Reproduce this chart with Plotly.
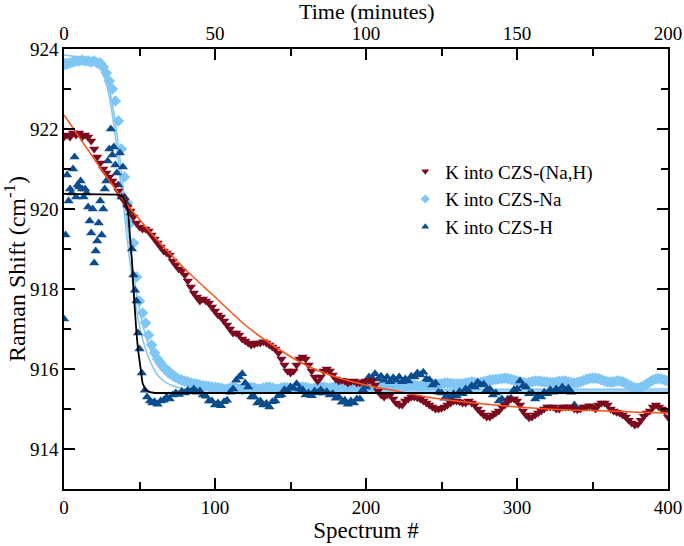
import plotly.graph_objects as go

# ---- data ----
# K into CZS-(Na,H): spectrum 0..400, every 2nd spectrum
nah_y = [921.8, 921.85, 921.8, 921.9, 921.85, 921.9, 921.8, 921.85, 921.8,
         921.7, 921.5, 921.3, 921.15, 921.0, 920.9, 920.8, 920.7, 920.6, 920.45,
         920.3, 920.2, 920.05, 919.95, 919.8, 919.65, 919.55, 919.5, 919.5, 919.45,
         919.35, 919.25, 919.15, 919.05, 918.95, 918.9, 918.85, 918.7, 918.6, 918.5,
         918.45, 918.35, 918.2, 918.05, 917.9, 917.8, 917.7, 917.75, 917.7, 917.65,
         917.55, 917.45, 917.35, 917.3, 917.2, 917.1, 917.0, 916.9, 916.9, 916.85,
         916.75, 916.7, 916.65, 916.6, 916.62, 916.65, 916.65, 916.68, 916.65, 916.6,
         916.55, 916.5, 916.4, 916.25, 916.1, 915.95, 915.9, 915.95, 916.1, 916.25,
         916.3, 916.25, 916.1, 915.95, 915.8, 915.7, 915.8, 915.95, 916.0, 915.95,
         915.85, 915.75, 915.7, 915.72, 915.7, 915.65, 915.68, 915.7, 915.65, 915.65,
         915.68, 915.7, 915.72, 915.7, 915.6, 915.45, 915.35, 915.3, 915.35, 915.35,
         915.25, 915.15, 915.1, 915.1, 915.2, 915.25, 915.3, 915.3, 915.28, 915.25,
         915.2, 915.15, 915.1, 915.05, 915.0, 915.0, 915.02, 915.05, 915.1, 915.15,
         915.2, 915.2, 915.18, 915.15, 915.15, 915.2, 915.15, 915.1, 915.0, 914.92,
         914.85, 914.8, 914.8, 914.85, 914.9, 914.95, 915.05, 915.1, 915.2, 915.25,
         915.25, 915.2, 915.1, 914.95, 914.85, 914.78, 914.8, 914.85, 914.9, 914.95,
         915.0, 915.05, 915.05, 915.05, 915.0, 915.0, 915.05, 915.05, 915.05, 915.05,
         915.0, 914.98, 915.0, 915.05, 915.05, 915.08, 915.05, 915.0, 915.1, 915.15,
         915.15, 915.1, 915.0, 914.95, 914.92, 914.9, 914.85, 914.8, 914.72, 914.65,
         914.6, 914.62, 914.72, 914.82, 914.9, 914.95, 915.05, 915.1, 915.05, 915.0,
         914.95, 914.8]
nah_x = [2 * i for i in range(len(nah_y))]

# K into CZS-Na: spectrum 0..400, every 2nd spectrum
na_y = [923.6, 923.62, 923.65, 923.68, 923.7, 923.7, 923.72, 923.7, 923.7, 923.68,
        923.7, 923.65,
        923.65, 923.55, 923.4, 923.2, 923.0, 922.7, 922.2, 921.5, 920.8, 920.15,
        919.65, 919.15, 918.3, 917.7, 917.4, 917.15, 916.85, 916.6, 916.4, 916.25,
        916.15, 916.05, 915.98, 915.92, 915.85, 915.8, 915.75, 915.72, 915.7, 915.68,
        915.65, 915.63, 915.62, 915.6, 915.58, 915.57, 915.56, 915.55, 915.54,
        915.53, 915.52, 915.5, 915.5, 915.52, 915.53, 915.52, 915.5, 915.48, 915.5,
        915.52, 915.54, 915.53, 915.5, 915.5, 915.52, 915.54, 915.55, 915.53, 915.5,
        915.5, 915.52, 915.54, 915.53, 915.52, 915.5, 915.52, 915.54, 915.55, 915.54,
        915.52, 915.5, 915.52, 915.55, 915.56, 915.55, 915.53, 915.52, 915.54, 915.56,
        915.55, 915.53, 915.52, 915.54, 915.56, 915.57, 915.55, 915.54, 915.55, 915.57,
        915.58, 915.56, 915.55, 915.55, 915.57, 915.58, 915.57, 915.55, 915.56, 915.58,
        915.6, 915.58, 915.57, 915.58, 915.6, 915.6, 915.58, 915.57, 915.58, 915.6,
        915.62, 915.63, 915.62,
        915.62, 915.63, 915.65, 915.65, 915.64, 915.63, 915.62, 915.62, 915.63, 915.65,
        915.66, 915.67, 915.66, 915.65, 915.66, 915.68, 915.7, 915.72, 915.73, 915.74,
        915.75, 915.76, 915.77, 915.76, 915.74, 915.72, 915.7, 915.68, 915.66, 915.65,
        915.66, 915.68, 915.7, 915.7, 915.69, 915.68, 915.67, 915.66, 915.66, 915.67,
        915.69, 915.7, 915.7, 915.68, 915.66, 915.65, 915.66, 915.68, 915.71, 915.74,
        915.76, 915.77, 915.77, 915.76, 915.73, 915.7, 915.68, 915.67, 915.68, 915.7,
        915.7, 915.68, 915.64, 915.6, 915.56, 915.53, 915.52, 915.54, 915.58, 915.63,
        915.68, 915.72, 915.75, 915.76, 915.75, 915.72, 915.7]
na_x = [2 * i for i in range(len(na_y))]

# K into CZS-H: scattered start, then every 2nd spectrum up to 338
h_head_x = [0, 1, 2, 3, 4, 5, 6, 7, 8, 9, 10, 11, 12, 13, 14, 15, 16, 17, 18, 19,
            20, 21, 22, 23, 24, 25, 26, 27, 28, 29, 30, 31, 32, 33, 34, 35, 36, 37,
            38, 39, 40, 42, 44, 45, 46, 47, 48, 49, 50, 51.5, 53.5, 55, 57, 58.5]
h_head_y = [917.25, 919.35, 920.85, 920.2, 920.5, 920.4, 921.0, 921.3, 920.3, 920.6,
            920.55, 920.7, 920.5, 920.3, 920.5, 920.4, 920.05, 919.7, 919.4, 920.0,
            918.65, 918.95, 919.2, 919.65, 920.2, 919.35, 920.0, 920.5, 920.7, 921.2,
            921.5, 922.0, 921.35, 921.55, 921.1, 920.9, 920.6, 921.4, 920.3, 921.05,
            920.3, 920.1, 919.9, 919.0, 918.35, 917.97, 917.7, 916.9, 916.5, 915.9,
            915.47, 915.3, 915.2, 915.15]
h_tail_y = [915.18, 915.12, 915.2, 915.22, 915.3, 915.25, 915.35, 915.4, 915.36, 915.44,
            915.4, 915.47, 915.43, 915.5, 915.42, 915.45, 915.35, 915.32, 915.2, 915.2,
            915.1, 915.15, 915.08, 915.18, 915.22, 915.42, 915.5, 915.72, 915.8, 915.88,
            915.65, 915.55, 915.3, 915.3, 915.15, 915.2, 915.1, 915.14, 915.05, 915.18,
            915.2, 915.33, 915.35, 915.48, 915.45, 915.55, 915.52, 915.63, 915.5, 915.48,
            915.35, 915.4, 915.33, 915.45, 915.4, 915.48, 915.4, 915.43, 915.35, 915.38,
            915.27, 915.3, 915.17, 915.22, 915.12, 915.2, 915.15, 915.25, 915.25, 915.48,
            915.55, 915.8, 915.78, 915.88, 915.75, 915.82, 915.72, 915.8, 915.68, 915.78,
            915.72, 915.8, 915.68, 915.75, 915.7, 915.82, 915.8, 915.9, 915.85, 915.92,
            915.75, 915.73, 915.6, 915.65, 915.42, 915.4, 915.27, 915.35, 915.28, 915.38,
            915.33, 915.44, 915.38, 915.5, 915.45, 915.58, 915.55, 915.67, 915.6, 915.62,
            915.48, 915.5, 915.35, 915.4, 915.2, 915.25, 915.12, 915.25, 915.27, 915.48,
            915.5, 915.7, 915.58, 915.55, 915.38, 915.4, 915.25, 915.33, 915.3, 915.42,
            915.38, 915.48, 915.42, 915.5, 915.45, 915.55, 915.47, 915.52, 915.42, 915.1]
h_tail_x = [60 + 2 * i for i in range(len(h_tail_y))]
h_x = h_head_x + h_tail_x
h_y = h_head_y + h_tail_y

# fit curves
fit_nah_x = [0, 20, 40, 60, 80, 100, 120, 140, 160, 180, 200, 220, 240, 260, 280,
             300, 320, 340, 360, 380, 400]
fit_nah_y = [922.35, 921.25, 920.2, 919.3, 918.5, 917.8, 917.1, 916.55, 916.1, 915.8,
             915.6, 915.45, 915.3, 915.2, 915.12, 915.05, 915.0, 914.97, 914.95, 914.92, 914.9]

fit_na_x = [0, 10, 20, 24, 27, 30, 33, 36, 39, 42, 45, 48, 51, 54, 57, 61, 66, 72,
            80, 90, 100, 400]
fit_na_a = [923.85, 923.8, 923.7, 923.6, 923.4, 923.0, 922.4, 921.6, 920.6, 919.6,
            918.7, 917.9, 917.3, 916.85, 916.5, 916.15, 915.9, 915.72, 915.6, 915.53,
            915.5, 915.5]
fit_na_b = [923.75, 923.72, 923.62, 923.5, 923.25, 922.8, 922.1, 921.2, 920.2, 919.2,
            918.3, 917.5, 916.9, 916.5, 916.2, 915.9, 915.7, 915.58, 915.5, 915.47,
            915.45, 915.45]

fit_h_x = [0, 36, 39, 41, 42.5, 44, 45, 46, 47, 48, 49, 50, 51, 52, 54, 57, 60, 400]
fit_h_y = [920.38, 920.36, 920.3, 920.15, 919.9, 919.3, 918.7, 918.0, 917.4, 916.9,
           916.5, 916.2, 915.9, 915.65, 915.48, 915.42, 915.4, 915.4]

time_range = [0, 200]

RED = "#7a0b1f"
LBLUE = "#80c6f4"
DBLUE = "#0b4d8c"
ORANGE = "#ff5019"
FONT = "'Liberation Serif', 'DejaVu Serif', serif"

fig = go.Figure()

fig.add_trace(go.Scatter(x=na_x, y=na_y, mode="markers", showlegend=False,
                         marker=dict(symbol="diamond", size=9, color=LBLUE)))
fig.add_trace(go.Scatter(x=fit_na_x, y=fit_na_b, mode="lines", showlegend=False,
                         line=dict(color=LBLUE, width=1.5, shape="spline", smoothing=0.6)))
fig.add_trace(go.Scatter(x=fit_na_x, y=fit_na_a, mode="lines", showlegend=False,
                         line=dict(color=LBLUE, width=1.5, shape="spline", smoothing=0.6)))
fig.add_trace(go.Scatter(x=h_x, y=h_y, mode="markers", showlegend=False,
                         marker=dict(symbol="triangle-up", size=9, color=DBLUE)))
fig.add_trace(go.Scatter(x=nah_x, y=nah_y, mode="markers", showlegend=False,
                         marker=dict(symbol="triangle-down", size=9, color=RED)))
fig.add_trace(go.Scatter(x=fit_nah_x, y=fit_nah_y, mode="lines", showlegend=False,
                         line=dict(color=ORANGE, width=1.5, shape="spline", smoothing=0.6)))
fig.add_trace(go.Scatter(x=fit_h_x, y=fit_h_y, mode="lines", showlegend=False,
                         line=dict(color="black", width=1.8)))

# legend entries (smaller symbols, as in the reference)
for name, sym, col in [("K into CZS-(Na,H)", "triangle-down", RED),
                       ("K into CZS-Na", "diamond", LBLUE),
                       ("K into CZS-H", "triangle-up", DBLUE)]:
    fig.add_trace(go.Scatter(x=[None], y=[None], mode="markers", name=name,
                             marker=dict(symbol=sym, size=7, color=col)))

# invisible trace to anchor the top (time) axis
fig.add_trace(go.Scatter(x=time_range, y=[914, 914], xaxis="x2", mode="markers",
                         marker=dict(opacity=0), showlegend=False, hoverinfo="skip"))

axis_common = dict(showline=True, linecolor="black", linewidth=1.5, ticks="inside",
                   tickcolor="black", tickwidth=1.5, ticklen=11, showgrid=False,
                   zeroline=False, automargin=False,
                   tickfont=dict(family=FONT, size=19, color="black"))
minor_common = dict(ticks="inside", ticklen=7, tickcolor="black", tickwidth=1.5)

fig.update_layout(
    width=684, height=546,
    margin=dict(l=64, r=16, t=49, b=57),
    paper_bgcolor="white", plot_bgcolor="white",
    font=dict(family=FONT, color="black"),
    showlegend=True,
    legend=dict(x=0.565, y=0.765, xanchor="left", yanchor="top",
                font=dict(family=FONT, size=19, color="black"),
                bgcolor="rgba(0,0,0,0)", tracegroupgap=0),
    xaxis=dict(range=[0, 400], dtick=100, tick0=0, minor=dict(dtick=50, **minor_common),
               title=dict(text="Spectrum #", font=dict(family=FONT, size=23), standoff=4),
               **axis_common),
    xaxis2=dict(range=time_range, overlaying="x", side="top", dtick=50, tick0=0,
                minor=dict(dtick=25, **minor_common), **axis_common),
    yaxis=dict(range=[913, 924], dtick=2, tick0=914, mirror="ticks",
               minor=dict(dtick=1, **minor_common),
               title=dict(text="Raman Shift (cm<sup>-1</sup>)", font=dict(family=FONT, size=24),
                          standoff=4),
               **axis_common),
    annotations=[dict(text="Time (minutes)", xref="paper", yref="paper", x=0.5, y=1,
                      yshift=38, xanchor="center", yanchor="middle", showarrow=False,
                      font=dict(family=FONT, size=22, color="black"))],
)

fig.write_html("out.html")
